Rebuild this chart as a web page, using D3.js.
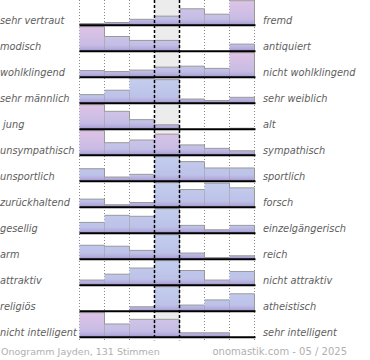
<!DOCTYPE html>
<html>
<head>
<meta charset="utf-8">
<script src="https://cdn.jsdelivr.net/npm/d3@7"></script>
<style>
html,body{margin:0;padding:0;background:#fff;}
svg{display:block;}
text{white-space:pre;}
</style>
</head>
<body>
<div id="chart"></div>
<script>
// ---- data ----
const leftLabels = ["sehr vertraut","modisch","wohlklingend","sehr männlich"," jung","unsympathisch","unsportlich","zurückhaltend","gesellig","arm","attraktiv","religiös","nicht intelligent"];
const rightLabels = ["fremd","antiquiert","nicht wohlklingend","sehr weiblich","alt","sympathisch","sportlich","forsch","einzelgängerisch","reich","nicht attraktiv","atheistisch","sehr intelligent"];
const steps = [1,2,3,4,5,6,7];
// bar heights per row, % of row maximum
const rowValues = [
  [7, 11, 24, 37, 67, 45, 100],
  [100, 60, 44, 44, 0, 0, 29],
  [27, 23, 29, 41, 45, 36, 100],
  [35, 53, 100, 96, 17, 11, 24],
  [100, 73, 39, 18, 0, 0, 4],
  [100, 51, 62, 86, 42, 28, 18],
  [51, 17, 28, 100, 80, 54, 54],
  [33, 10, 19, 100, 72, 98, 79],
  [44, 73, 69, 100, 32, 14, 32],
  [57, 53, 36, 100, 25, 7, 14],
  [21, 45, 70, 100, 60, 21, 56],
  [0, 0, 18, 100, 25, 46, 71],
  [100, 54, 73, 73, 18, 18, 0]
];
// emphasis level per bar (0 = blue, 1 = pink)
const rowEmphasis = [
  [0.35, 0.35, 0.35, 0.3, 0.7, 0.5, 1],
  [1, 0.6, 0.5, 0.5, 0, 0, 0.4],
  [0.3, 0.3, 0.3, 0.3, 0.3, 0.3, 1],
  [0.05, 0.05, 0, 0, 0.1, 0.1, 0.1],
  [1, 0.7, 0.4, 0.3, 0, 0, 0.3],
  [1, 0.4, 0.5, 0.9, 0.3, 0.3, 0.3],
  [0.05, 0.05, 0.05, 0, 0.05, 0.05, 0.05],
  [0.05, 0.05, 0.05, 0, 0.05, 0, 0.05],
  [0.05, 0.05, 0.05, 0, 0.05, 0.05, 0.05],
  [0.05, 0.05, 0.05, 0, 0.05, 0.05, 0.05],
  [0.05, 0.05, 0.05, 0, 0.05, 0.05, 0.05],
  [0.05, 0.05, 0.05, 0, 0.05, 0.05, 0.05],
  [1, 0.6, 0.7, 0.7, 0.4, 0.4, 0]
];
const footerLeft = "Onogramm Jayden, 131 Stimmen";
const footerRight = "onomastik.com - 05 / 2025";

// ---- drawing ----
const W = 370, H = 360;
const svg = d3.select("#chart").append("svg").attr("width", W).attr("height", H);
const defs = svg.append("defs");

const x = d3.scaleBand().domain(steps).range([79.5, 254.5]).padding(0);
const rowIdx = d3.range(leftLabels.length);
const row = d3.scaleBand().domain(rowIdx).range([-0.8, -0.8 + 26 * leftLabels.length]).padding(0);
const h = d3.scaleLinear().domain([0, 100]).range([0, 24.5]);
const tint = d3.scaleLinear().domain([0, 1]).range(["#c4ceee", "#dfc3e6"]).interpolate(d3.interpolateRgb);
const tintMid = d3.scaleLinear().domain([0, 1]).range(["#bcc2e8", "#c8bce4"]).interpolate(d3.interpolateRgb);
const baseY = i => row(i) + row.bandwidth();
const bottomY = baseY(leftLabels.length - 1);

// neutral column band
svg.append("rect")
  .attr("x", x(4)).attr("y", 0)
  .attr("width", x.bandwidth()).attr("height", bottomY)
  .attr("fill", "#ececec");

// dotted grid lines
const edges = steps.map(s => x(s)).concat([x(7) + x.bandwidth()]);
const dottedEdges = edges.filter((e, i) => i !== 3 && i !== 4);
svg.append("g").selectAll("line").data(dottedEdges).join("line")
  .attr("x1", d => d).attr("x2", d => d)
  .attr("y1", 0).attr("y2", bottomY + 3)
  .attr("stroke", "#888").attr("stroke-width", 1).attr("stroke-dasharray", "1,2");

// bars
rowValues.forEach((vals, ri) => {
  const g = svg.append("g");
  vals.forEach((v, ci) => {
    if (v <= 0) return;
    const s = steps[ci];
    const bh = h(v);
    const x0 = x(s), x1 = x0 + x.bandwidth();
    const y1 = baseY(ri), y0 = y1 - bh;
    const e = rowEmphasis[ri][ci];
    const id = `g${ri}_${ci}`;
    const grad = defs.append("linearGradient").attr("id", id)
      .attr("gradientUnits", "userSpaceOnUse")
      .attr("x1", 0).attr("x2", 0).attr("y1", y1 - 25).attr("y2", y1);
    grad.append("stop").attr("offset", "0%").attr("stop-color", tint(e));
    grad.append("stop").attr("offset", "75%").attr("stop-color", tintMid(e));
    grad.append("stop").attr("offset", "90%").attr("stop-color", "#b4acdc");
    grad.append("stop").attr("offset", "100%").attr("stop-color", "#9a8cc8");
    g.append("rect")
      .attr("x", x0).attr("y", y0).attr("width", x.bandwidth()).attr("height", bh)
      .attr("fill", `url(#${id})`);
    g.append("path")
      .attr("d", `M${x0},${y0}H${x1}V${y1}`)
      .attr("fill", "none").attr("stroke", "#999").attr("stroke-width", 1);
  });
});

// row baselines
svg.append("g").selectAll("line").data(rowIdx).join("line")
  .attr("x1", 79.5).attr("x2", 255.5)
  .attr("y1", d => baseY(d)).attr("y2", d => baseY(d))
  .attr("stroke", "#000").attr("stroke-width", 2);

// dashed neutral lines
svg.append("g").selectAll("line").data([edges[3], edges[4]]).join("line")
  .attr("x1", d => d).attr("x2", d => d)
  .attr("y1", 0).attr("y2", bottomY + 3)
  .attr("stroke", "#000").attr("stroke-width", 1.5).attr("stroke-dasharray", "3,2");

// labels
const font = "'DejaVu Sans', Verdana, sans-serif";
svg.append("g").selectAll("text").data(leftLabels).join("text")
  .attr("x", 0).attr("y", (d, i) => baseY(i) - 1.5)
  .attr("font-family", font).attr("font-style", "italic").attr("font-size", 9.8)
  .attr("fill", "#5e5e5e").text(d => d);
svg.append("g").selectAll("text").data(rightLabels).join("text")
  .attr("x", 263).attr("y", (d, i) => baseY(i) - 1.5)
  .attr("font-family", font).attr("font-style", "italic").attr("font-size", 9.8)
  .attr("fill", "#5e5e5e").text(d => d);

// footer
svg.append("text").attr("x", 1).attr("y", 355)
  .attr("font-family", font).attr("font-size", 9.5).attr("fill", "#b0b0b0").text(footerLeft);
svg.append("text").attr("x", 347).attr("y", 355).attr("text-anchor", "end")
  .attr("font-family", font).attr("font-size", 10).attr("fill", "#b0b0b0").text(footerRight);
</script>
</body>
</html>
